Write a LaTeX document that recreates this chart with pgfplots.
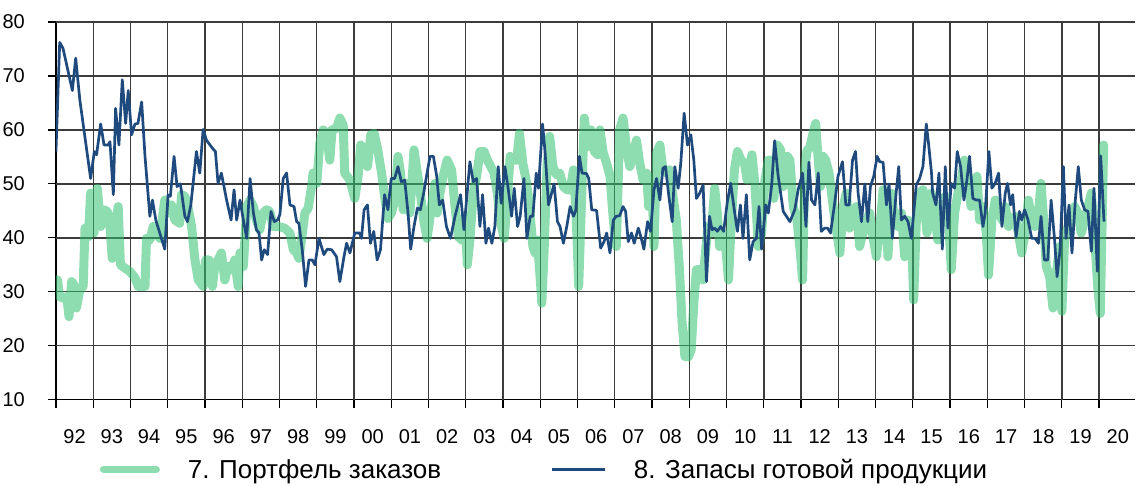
\documentclass[border=0pt]{standalone}
\usepackage{fontspec}
\setmainfont{Liberation Sans}
\usepackage{pgfplots}
\pgfplotsset{compat=1.18}
\definecolor{greenbase}{RGB}{50,193,111}
\definecolor{navy}{RGB}{31,74,126}
\definecolor{gridc}{RGB}{60,60,60}
\begin{document}
\begin{tikzpicture}
\path (0,0) rectangle (1136pt,486pt);
\begin{axis}[
  at={(56pt,86pt)}, anchor=south west,
  scale only axis, width=1080pt, height=378pt,
  xmin=1992, xmax=2020.97, ymin=10, ymax=80,
  axis lines=left,
  axis line style={-, black, line width=1.4pt},
  xtick={1992,...,2020}, xticklabels={},
  ytick={10,20,...,80},
  extra x ticks={1992.5,1993.5,...,2020.5},
  extra x tick labels={92,93,94,95,96,97,98,99,00,01,02,03,04,05,06,07,08,09,10,11,12,13,14,15,16,17,18,19,20},
  extra x tick style={major tick length=0pt, grid=none},
  grid=major, major grid style={draw=gridc, line width=1.3pt},
  tick align=outside, major tick length=8pt,
  tick style={black, line width=1.2pt},
  ticklabel style={font=\fontsize{20}{24}\selectfont},
  /pgf/number format/assume math mode=true,
  xticklabel style={anchor=center, yshift=-37pt},
  yticklabel style={anchor=east, inner sep=0pt, xshift=-23pt},
  legend style={at={(0.0407,-0.185)}, anchor=west, draw=none, fill=none,
    inner sep=0pt, outer sep=0pt, nodes={inner sep=0pt},
    font=\fontsize{26}{31}\selectfont,
    /tikz/every odd column/.append style={column sep=28pt},
    /tikz/every even column/.append style={column sep=109pt}},
  legend columns=2, legend cell align=left,
  legend image code/.code={\draw[#1] (0pt,0pt) -- (53pt,0pt);},
]
\pgfplotsinvokeforeach{1993,...,2020}{
  \addplot[gridc, line width=1.3pt, forget plot] coordinates {(#1,10) (#1,80)};
}
\pgfplotsinvokeforeach{20,30,...,80}{
  \addplot[gridc, line width=1.3pt, forget plot] coordinates {(1992,#1) (2020.97,#1)};
}
\addplot[greenbase, opacity=0.55, line width=9pt, line cap=round, line join=round,
  legend image post style={line width=7pt}] coordinates {
(1992.00,32.2)(1992.04,32.2)(1992.10,29.1)(1992.20,28.8)(1992.29,29.1)(1992.35,25.4)
(1992.42,31.9)(1992.48,31.3)(1992.55,27.0)(1992.64,30.4)(1992.73,31.0)(1992.78,41.8)
(1992.87,40.2)(1992.93,48.3)(1993.02,40.9)(1993.11,49.2)(1993.20,42.1)(1993.29,45.2)
(1993.38,44.9)(1993.45,42.1)(1993.51,36.2)(1993.60,42.7)(1993.67,45.8)(1993.73,35.0)
(1993.85,34.4)(1993.98,33.8)(1994.12,32.6)(1994.21,31.0)(1994.39,31.0)(1994.43,39.9)
(1994.52,39.6)(1994.61,42.1)(1994.70,40.9)(1994.79,39.9)(1994.92,47.0)(1995.01,44.6)
(1995.10,46.1)(1995.19,43.3)(1995.32,42.7)(1995.37,48.0)(1995.46,47.7)(1995.55,45.5)
(1995.64,42.1)(1995.73,35.9)(1995.82,32.2)(1995.95,31.0)(1996.02,35.9)(1996.11,35.9)
(1996.20,31.0)(1996.26,34.7)(1996.35,35.9)(1996.44,37.2)(1996.53,32.2)(1996.62,34.7)
(1996.71,34.1)(1996.80,35.9)(1996.89,31.0)(1996.94,37.2)(1997.03,34.7)(1997.12,45.8)
(1997.21,47.0)(1997.30,45.8)(1997.38,43.3)(1997.47,41.5)(1997.56,44.6)(1997.65,45.2)
(1997.74,44.9)(1997.83,42.1)(1997.97,42.1)(1998.14,41.8)(1998.28,40.9)(1998.37,37.8)
(1998.46,37.2)(1998.52,36.2)(1998.59,39.6)(1998.68,44.6)(1998.77,45.5)(1998.86,49.5)
(1998.90,52.0)(1999.00,50.1)(1999.08,57.5)(1999.17,60.0)(1999.26,59.4)(1999.35,54.4)
(1999.41,60.0)(1999.53,60.3)(1999.62,62.2)(1999.71,60.9)(1999.75,52.0)(1999.89,50.7)
(2000.02,47.3)(2000.11,51.4)(2000.18,57.2)(2000.27,56.0)(2000.36,53.2)(2000.45,59.1)
(2000.54,59.4)(2000.63,56.6)(2000.74,52.0)(2000.82,47.7)(2000.91,43.6)(2001.00,44.6)
(2001.09,46.7)(2001.18,55.1)(2001.25,52.0)(2001.32,45.2)(2001.41,50.1)(2001.50,44.6)
(2001.61,56.3)(2001.70,52.0)(2001.78,48.3)(2001.87,43.3)(2001.96,39.9)(2002.08,45.8)
(2002.17,50.1)(2002.23,44.6)(2002.30,48.0)(2002.39,51.4)(2002.50,54.4)(2002.62,52.6)
(2002.71,45.8)(2002.80,40.2)(2002.89,39.6)(2002.98,44.0)(2003.04,35.0)(2003.11,39.6)
(2003.20,48.3)(2003.29,51.4)(2003.38,56.0)(2003.49,56.0)(2003.58,54.4)(2003.67,53.2)
(2003.76,52.0)(2003.85,48.0)(2003.92,43.3)(2004.03,39.9)(2004.10,45.8)(2004.19,55.1)
(2004.28,54.4)(2004.37,54.4)(2004.44,59.4)(2004.53,53.8)(2004.62,50.7)(2004.71,45.8)
(2004.80,38.4)(2004.86,37.2)(2004.92,39.6)(2005.00,32.2)(2005.04,27.9)(2005.10,37.2)
(2005.18,53.2)(2005.25,58.8)(2005.34,53.2)(2005.43,51.7)(2005.52,52.0)(2005.62,49.5)
(2005.71,48.9)(2005.80,48.9)(2005.89,52.6)(2005.96,44.6)(2006.03,31.0)(2006.18,62.2)
(2006.27,56.9)(2006.36,60.0)(2006.45,56.0)(2006.54,55.4)(2006.60,60.0)(2006.69,55.7)
(2006.78,53.8)(2006.87,51.4)(2006.96,43.3)(2007.04,38.4)(2007.13,60.0)(2007.22,62.2)
(2007.31,56.9)(2007.40,53.2)(2007.49,55.4)(2007.58,58.1)(2007.67,53.8)(2007.76,50.7)
(2007.85,52.0)(2007.91,45.8)(2008.00,49.5)(2008.05,38.4)(2008.12,55.7)(2008.21,57.2)
(2008.29,52.6)(2008.38,52.0)(2008.47,52.6)(2008.56,47.7)(2008.65,43.3)(2008.74,33.5)
(2008.80,24.8)(2008.88,18.0)(2008.98,18.0)(2009.05,19.3)(2009.12,27.9)(2009.19,34.1)
(2009.28,34.1)(2009.37,32.2)(2009.43,37.2)(2009.50,42.1)(2009.59,40.9)(2009.68,49.2)
(2009.75,44.6)(2009.81,38.4)(2009.90,40.9)(2009.99,37.2)(2010.05,32.2)(2010.13,43.3)
(2010.21,52.6)(2010.29,56.0)(2010.39,54.4)(2010.48,53.8)(2010.55,50.7)(2010.68,55.4)
(2010.76,50.0)(2010.85,38.4)(2010.94,40.9)(2011.03,50.7)(2011.12,54.4)(2011.21,54.4)
(2011.27,47.3)(2011.36,57.2)(2011.45,56.3)(2011.52,49.5)(2011.63,55.1)(2011.70,54.4)
(2011.79,45.8)(2011.89,43.3)(2011.98,37.2)(2012.04,32.2)(2012.10,52.6)(2012.16,56.3)
(2012.23,56.6)(2012.32,59.4)(2012.39,61.2)(2012.46,54.4)(2012.52,49.5)(2012.59,55.1)
(2012.66,54.4)(2012.75,52.0)(2012.86,45.8)(2012.96,40.9)(2013.04,37.2)(2013.13,45.8)
(2013.21,48.3)(2013.30,41.8)(2013.39,43.3)(2013.48,45.8)(2013.57,38.4)(2013.66,40.9)
(2013.75,43.3)(2013.84,44.6)(2013.91,40.9)(2014.02,36.5)(2014.11,41.5)(2014.20,48.9)
(2014.27,48.3)(2014.33,36.5)(2014.42,48.3)(2014.51,43.3)(2014.60,42.1)(2014.69,44.6)
(2014.78,36.5)(2014.87,43.3)(2014.96,42.1)(2015.02,28.5)(2015.09,42.7)(2015.18,48.3)
(2015.27,48.9)(2015.38,40.9)(2015.49,48.3)(2015.58,44.6)(2015.67,39.6)(2015.76,46.1)
(2015.87,47.7)(2015.96,43.3)(2016.03,34.1)(2016.12,44.6)(2016.21,48.3)(2016.30,50.7)
(2016.38,54.4)(2016.47,52.0)(2016.56,45.8)(2016.65,48.3)(2016.72,51.4)(2016.79,43.3)
(2016.88,45.8)(2016.97,40.9)(2017.03,33.1)(2017.12,43.3)(2017.21,47.0)(2017.30,45.8)
(2017.39,43.3)(2017.48,45.8)(2017.57,42.1)(2017.66,43.3)(2017.74,44.0)(2017.83,40.9)
(2017.92,37.2)(2018.01,40.9)(2018.10,47.0)(2018.19,43.3)(2018.28,42.1)(2018.37,44.6)
(2018.44,50.1)(2018.51,43.3)(2018.58,34.7)(2018.67,32.8)(2018.76,27.0)(2018.85,33.5)
(2018.94,38.4)(2019.00,26.4)(2019.07,39.6)(2019.16,42.1)(2019.25,43.3)(2019.34,45.8)
(2019.43,44.6)(2019.52,40.9)(2019.61,43.3)(2019.70,45.8)(2019.79,48.3)(2019.87,40.9)
(2019.96,31.0)(2020.03,26.0)(2020.12,57.2)
};
\addlegendentry{7. Портфель заказов}
\addplot[navy, line width=2.7pt, line join=round, legend image post style={line width=2.7pt}] coordinates {
(1992.00,56.0)(1992.10,76.2)(1992.19,75.1)(1992.44,67.3)(1992.53,73.3)(1992.64,65.6)
(1992.93,51.0)(1993.03,56.0)(1993.09,55.4)(1993.20,61.1)(1993.29,57.2)(1993.40,57.2)
(1993.45,57.8)(1993.54,48.0)(1993.60,64.0)(1993.69,57.2)(1993.78,69.3)(1993.87,61.2)
(1993.94,67.3)(1994.03,59.1)(1994.12,61.1)(1994.20,61.2)(1994.30,65.2)(1994.39,55.1)
(1994.52,44.0)(1994.59,47.0)(1994.68,43.3)(1994.92,37.9)(1995.01,48.0)(1995.07,47.7)
(1995.17,55.1)(1995.25,49.5)(1995.34,50.0)(1995.46,44.0)(1995.53,43.0)(1995.62,46.1)
(1995.77,56.0)(1995.86,52.0)(1995.95,60.1)(1996.04,58.1)(1996.20,56.6)(1996.28,56.0)
(1996.35,50.1)(1996.44,52.0)(1996.58,47.0)(1996.70,43.3)(1996.78,48.9)(1996.85,43.3)
(1996.94,47.0)(1997.03,43.3)(1997.12,39.9)(1997.21,51.0)(1997.30,44.6)(1997.38,41.5)
(1997.45,40.9)(1997.52,35.9)(1997.59,37.8)(1997.68,36.9)(1997.77,44.9)(1997.86,43.0)
(1997.95,43.3)(1998.01,44.3)(1998.10,51.0)(1998.19,52.0)(1998.28,46.1)(1998.39,45.8)
(1998.46,43.0)(1998.52,42.7)(1998.61,37.8)(1998.70,31.0)(1998.79,35.9)(1998.88,35.9)
(1998.95,35.0)(1999.06,39.9)(1999.19,36.9)(1999.28,37.9)(1999.40,37.8)(1999.53,36.5)
(1999.62,31.9)(1999.73,36.5)(1999.80,39.0)(1999.89,37.2)(2000.02,40.9)(2000.15,40.9)
(2000.20,39.9)(2000.27,45.2)(2000.36,46.1)(2000.44,39.0)(2000.53,41.2)(2000.62,35.9)
(2000.71,37.8)(2000.82,48.0)(2000.91,45.2)(2001.00,51.0)(2001.09,51.0)(2001.18,53.2)
(2001.27,50.4)(2001.36,50.7)(2001.45,44.6)(2001.52,37.9)(2001.61,42.1)(2001.70,45.5)
(2001.78,45.2)(2001.87,48.3)(2001.96,52.0)(2002.04,55.1)(2002.13,55.1)(2002.22,51.4)
(2002.29,46.1)(2002.38,47.0)(2002.48,42.1)(2002.59,39.9)(2002.71,44.0)(2002.86,48.0)
(2002.95,41.5)(2003.11,54.1)(2003.20,50.4)(2003.29,51.0)(2003.38,42.1)(2003.45,48.0)
(2003.54,39.0)(2003.61,41.8)(2003.70,39.0)(2003.78,42.1)(2003.87,53.2)(2003.95,46.4)
(2004.05,53.2)(2004.13,49.5)(2004.23,44.0)(2004.30,49.2)(2004.39,42.1)(2004.46,44.0)
(2004.56,51.0)(2004.64,39.9)(2004.73,44.0)(2004.80,44.0)(2004.89,52.0)(2004.95,49.2)
(2005.06,61.1)(2005.13,55.7)(2005.22,46.1)(2005.37,50.0)(2005.46,43.0)(2005.53,42.1)
(2005.62,39.0)(2005.71,42.1)(2005.80,45.8)(2005.89,44.0)(2005.95,45.0)(2006.05,55.1)
(2006.12,52.0)(2006.24,51.9)(2006.30,51.0)(2006.38,45.2)(2006.51,45.1)(2006.62,38.1)
(2006.71,39.3)(2006.78,40.9)(2006.87,37.2)(2006.96,43.3)(2007.04,44.0)(2007.13,44.1)
(2007.22,45.8)(2007.29,44.9)(2007.36,39.3)(2007.45,40.9)(2007.52,39.0)(2007.63,41.8)
(2007.70,40.2)(2007.78,37.9)(2007.88,43.0)(2007.96,41.2)(2008.05,48.9)(2008.12,51.0)
(2008.21,47.0)(2008.29,52.9)(2008.36,53.2)(2008.45,47.7)(2008.54,43.0)(2008.61,53.2)
(2008.70,49.2)(2008.77,53.8)(2008.86,63.1)(2008.95,57.2)(2009.04,59.1)(2009.12,54.4)
(2009.19,47.3)(2009.28,48.3)(2009.37,49.8)(2009.46,31.9)(2009.54,44.0)(2009.61,41.5)
(2009.68,41.8)(2009.75,41.2)(2009.84,42.1)(2009.92,41.2)(2010.02,46.7)(2010.11,50.1)
(2010.20,45.5)(2010.29,41.2)(2010.37,46.1)(2010.44,39.9)(2010.53,48.0)(2010.62,35.9)
(2010.71,39.3)(2010.80,39.9)(2010.87,45.8)(2010.94,37.9)(2011.05,46.1)(2011.12,44.6)
(2011.21,49.8)(2011.29,58.0)(2011.38,51.7)(2011.52,44.9)(2011.70,43.0)(2011.83,45.2)
(2011.92,48.9)(2012.04,52.0)(2012.13,42.1)(2012.21,54.0)(2012.28,47.0)(2012.37,46.1)
(2012.46,52.0)(2012.54,41.2)(2012.63,41.8)(2012.71,41.8)(2012.79,40.9)(2012.90,46.4)
(2012.99,51.4)(2013.11,54.1)(2013.20,46.1)(2013.29,46.1)(2013.38,54.4)(2013.46,56.0)
(2013.53,48.3)(2013.62,43.0)(2013.71,50.0)(2013.79,43.0)(2013.86,49.5)(2013.95,51.4)
(2014.04,55.1)(2014.11,54.1)(2014.20,54.0)(2014.29,46.1)(2014.36,50.0)(2014.45,39.9)
(2014.55,48.3)(2014.62,53.2)(2014.69,43.3)(2014.78,44.0)(2014.87,43.0)(2014.96,39.9)
(2015.09,49.8)(2015.18,51.0)(2015.27,53.2)(2015.36,61.1)(2015.42,57.5)(2015.50,52.0)
(2015.53,48.3)(2015.62,46.1)(2015.70,52.0)(2015.79,37.9)(2015.87,53.2)(2015.94,41.8)
(2016.03,50.1)(2016.12,49.2)(2016.19,56.0)(2016.28,53.2)(2016.37,47.0)(2016.45,50.7)
(2016.52,55.1)(2016.61,47.3)(2016.70,47.0)(2016.79,47.0)(2016.88,42.1)(2016.94,44.6)
(2017.04,56.0)(2017.12,49.2)(2017.21,50.1)(2017.30,52.0)(2017.39,42.1)(2017.48,48.3)
(2017.54,50.1)(2017.62,46.1)(2017.68,48.0)(2017.77,40.2)(2017.86,44.9)(2017.92,43.3)
(2018.00,45.2)(2018.09,43.3)(2018.19,39.9)(2018.28,39.9)(2018.37,39.0)(2018.44,44.0)
(2018.53,35.9)(2018.62,35.9)(2018.71,47.0)(2018.80,39.9)(2018.87,32.8)(2018.95,37.8)
(2019.04,53.2)(2019.11,39.9)(2019.19,46.1)(2019.27,37.2)(2019.36,47.0)(2019.44,53.2)
(2019.52,47.0)(2019.61,45.2)(2019.70,44.9)(2019.79,37.5)(2019.86,49.2)(2019.95,33.8)
(2020.04,55.2)(2020.13,43.0)
};
\addlegendentry{8. Запасы готовой продукции}
\end{axis}
\end{tikzpicture}
\end{document}
